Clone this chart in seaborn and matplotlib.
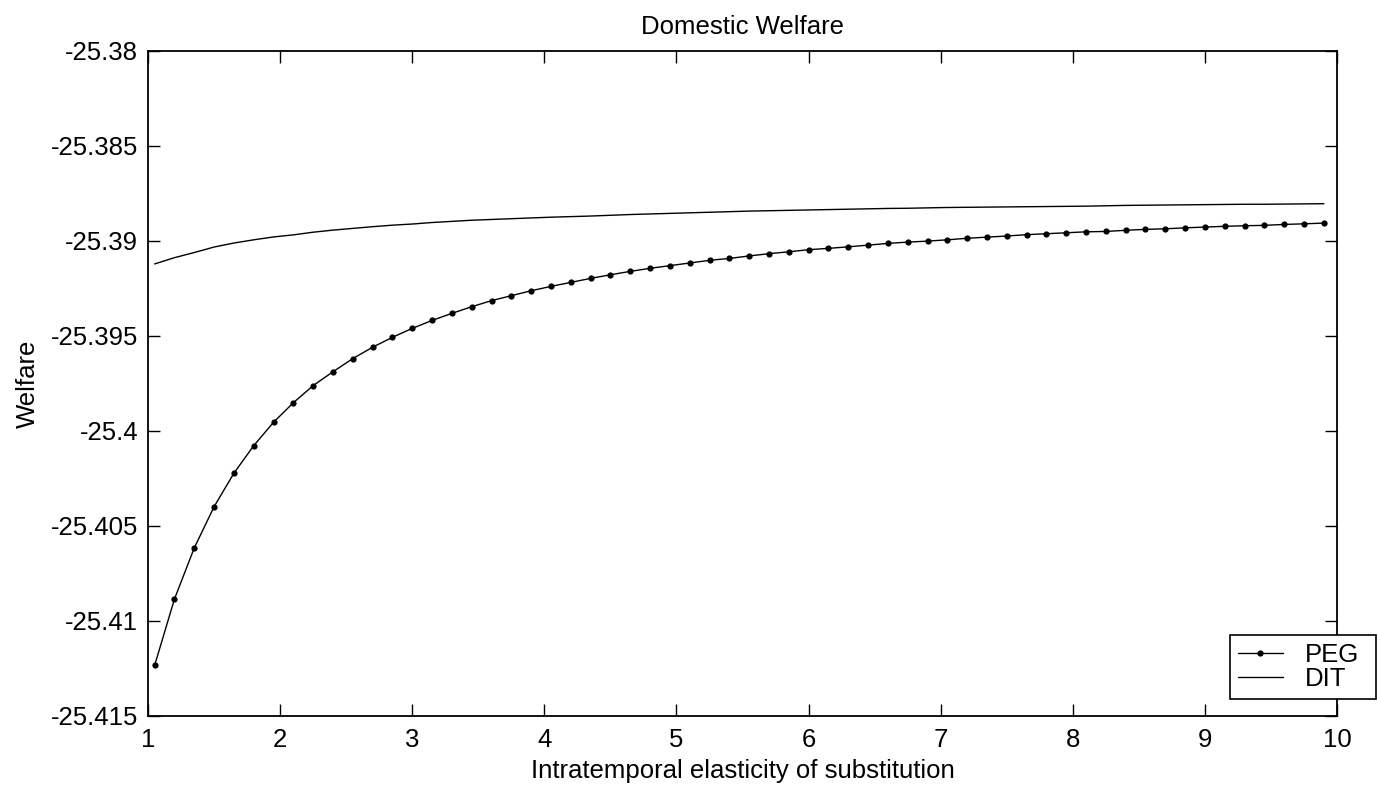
import numpy as np
import pandas as pd
import matplotlib
matplotlib.use("Agg")
import matplotlib.pyplot as plt
import seaborn as sns

# x grid: elasticity of substitution (1.05 .. 9.90, step 0.15)
elasticity = np.round(np.arange(1.05, 9.9001, 0.15), 2)

peg = [
    -25.41234, -25.40885, -25.40616, -25.40399, -25.40223, -25.40078, -25.39955, -25.39852,
    -25.39762, -25.39689, -25.39620, -25.39560, -25.39508, -25.39461, -25.39419, -25.39382,
    -25.39347, -25.39315, -25.39289, -25.39263, -25.39240, -25.39219, -25.39198, -25.39179,
    -25.39161, -25.39145, -25.39131, -25.39117, -25.39103, -25.39093, -25.39080, -25.39068,
    -25.39058, -25.39047, -25.39040, -25.39032, -25.39023, -25.39014, -25.39007, -25.39002,
    -25.38995, -25.38987, -25.38981, -25.38975, -25.38968, -25.38963, -25.38958, -25.38953,
    -25.38951, -25.38945, -25.38940, -25.38937, -25.38932, -25.38928, -25.38924, -25.38921,
    -25.38919, -25.38914, -25.38911, -25.38907,
]

dit = [
    -25.39122, -25.39089, -25.39062, -25.39033, -25.39012, -25.38995, -25.38980, -25.38969,
    -25.38955, -25.38944, -25.38935, -25.38926, -25.38918, -25.38912, -25.38904, -25.38898,
    -25.38892, -25.38888, -25.38884, -25.38880, -25.38876, -25.38873, -25.38870, -25.38866,
    -25.38862, -25.38859, -25.38856, -25.38853, -25.38850, -25.38847, -25.38844, -25.38842,
    -25.38840, -25.38838, -25.38836, -25.38834, -25.38832, -25.38830, -25.38829, -25.38827,
    -25.38825, -25.38824, -25.38823, -25.38822, -25.38821, -25.38820, -25.38819, -25.38818,
    -25.38816, -25.38814, -25.38813, -25.38812, -25.38811, -25.38810, -25.38809, -25.38808,
    -25.38808, -25.38807, -25.38806, -25.38805,
]

x_ticks = [1, 2, 3, 4, 5, 6, 7, 8, 9, 10]
y_ticks = [-25.415, -25.41, -25.405, -25.4, -25.395, -25.39, -25.385, -25.38]
y_tick_labels = ["-25.415", "-25.41", "-25.405", "-25.4", "-25.395", "-25.39", "-25.385", "-25.38"]

sns.set_style("ticks")
plt.rcParams["font.family"] = ["Liberation Sans", "DejaVu Sans"]
plt.rcParams["text.color"] = "black"
plt.rcParams["axes.labelcolor"] = "black"
plt.rcParams["xtick.color"] = "black"
plt.rcParams["ytick.color"] = "black"

fig = plt.figure(figsize=(13.77, 7.88), dpi=100)
ax = fig.add_axes([0.1075, 0.0914, 0.8635, 0.8443])

df_peg = pd.DataFrame({"x": elasticity, "y": peg})
df_dit = pd.DataFrame({"x": elasticity, "y": dit})

sns.lineplot(data=df_peg, x="x", y="y", ax=ax, color="black", linewidth=1.0,
             marker="o", markersize=4.5, markeredgewidth=0, label="PEG")
sns.lineplot(data=df_dit, x="x", y="y", ax=ax, color="black", linewidth=1.0, label="DIT")

ax.set_xlim(1, 10)
ax.set_ylim(-25.415, -25.38)
ax.set_xticks(x_ticks)
ax.set_xticklabels([str(t) for t in x_ticks])
ax.set_yticks(y_ticks)
ax.set_yticklabels(y_tick_labels)

fs = 18.5
ax.tick_params(direction="in", length=8.5, width=1.0, labelsize=fs,
               top=True, right=True, colors="black")
ax.tick_params(axis="x", pad=9)
ax.tick_params(axis="y", pad=7)
for s in ax.spines.values():
    s.set_visible(True)
    s.set_linewidth(1.3)
    s.set_color("black")

ax.set_title("Domestic Welfare", fontsize=fs, pad=12, color="black")
ax.set_xlabel("Intratemporal elasticity of substitution", fontsize=fs, labelpad=5)
ax.set_ylabel("Welfare", fontsize=fs, labelpad=8)

leg = ax.legend(loc="lower left", bbox_to_anchor=(1230 / 1377, 1 - 698.5 / 788, 146 / 1377, 64 / 788),
                bbox_transform=fig.transFigure, mode="expand", borderaxespad=0, fontsize=fs,
                frameon=True, fancybox=False, handlelength=1.75, handletextpad=0.85,
                borderpad=0.3, labelspacing=0.0)
leg.get_frame().set_edgecolor("black")
leg.get_frame().set_linewidth(1.2)
leg.get_frame().set_alpha(1)
for t in leg.get_texts():
    t.set_color("black")

fig.savefig("out.png", dpi=100)
